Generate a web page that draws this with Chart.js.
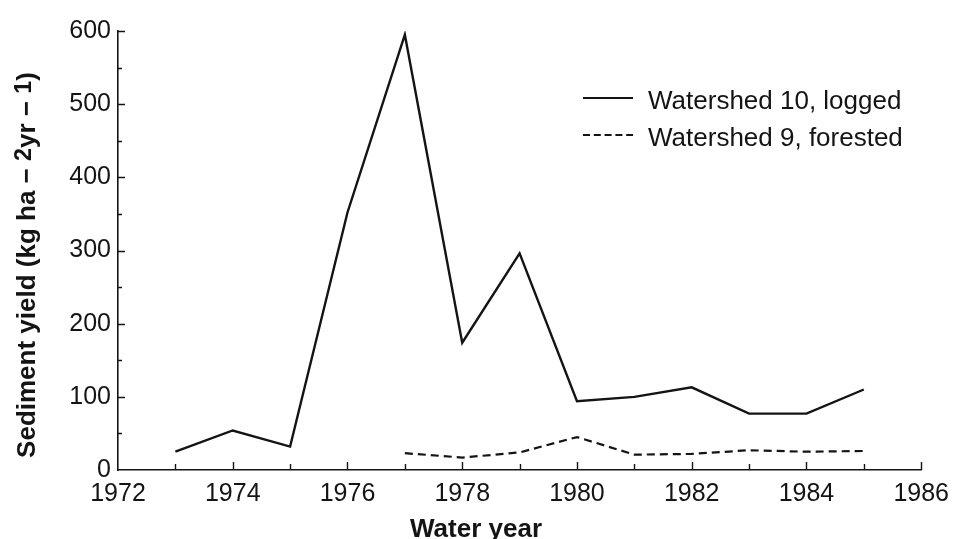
<!DOCTYPE html>
<html>
<head>
<meta charset="utf-8">
<script src="https://cdn.jsdelivr.net/npm/chart.js@4.4.0/dist/chart.umd.min.js"></script>
<style>
  html, body { margin: 0; padding: 0; background: #fff; }
  #wrap { width: 958px; height: 539px; }
</style>
</head>
<body>
<div id="wrap"><canvas id="chart"></canvas></div>
<script>
// years and sediment yields
const years = [1973, 1974, 1975, 1976, 1977, 1978, 1979, 1980, 1981, 1982, 1983, 1984, 1985];
const logged = [25, 54, 32, 352, 595, 174, 296, 94, 100, 113, 77, 77, 110];
const forestedYears = [1977, 1978, 1979, 1980, 1981, 1982, 1983, 1984, 1985];
const forested = [23, 17, 24, 45, 21, 22, 27, 25, 26];
const xTicks = [1972, 1974, 1976, 1978, 1980, 1982, 1984, 1986];
const yTicks = [0, 100, 200, 300, 400, 500, 600];

const ink = '#141414';
const font = 'Liberation Sans';

function toPoints(xs, ys) {
  return xs.map((x, i) => ({ x: x, y: ys[i] }));
}

// width of a run of text pieces (raised pieces are a touch smaller)
function piecesWidth(ctx, pieces, size) {
  let w = 0;
  pieces.forEach(p => {
    ctx.font = 'bold ' + (p.raised ? size * 0.9 : size) + 'px "' + font + '"';
    w += ctx.measureText(p.t).width;
  });
  return w;
}

function drawPieces(ctx, pieces, x, y, size) {
  let cx = x;
  pieces.forEach(p => {
    ctx.font = 'bold ' + (p.raised ? size * 0.9 : size) + 'px "' + font + '"';
    ctx.fillText(p.t, cx, y - (p.raised ? 4 : 0));
    cx += ctx.measureText(p.t).width;
  });
}

// inward tick marks, axis titles and the legend at top right
const extras = {
  id: 'extras',
  afterDraw(chart) {
    const ctx = chart.ctx;
    const xs = chart.scales.x;
    const ys = chart.scales.y;
    const left = xs.getPixelForValue(1972);
    const bottom = ys.getPixelForValue(0);
    ctx.save();
    ctx.strokeStyle = ink;
    ctx.lineWidth = 1.4;
    ctx.beginPath();
    for (let yr = 1973; yr <= 1986; yr++) {
      const px = Math.round(xs.getPixelForValue(yr)) + 0.5;
      const len = yr % 2 === 0 ? 8 : 6;
      ctx.moveTo(px, bottom);
      ctx.lineTo(px, bottom - len);
    }
    for (let v = 50; v <= 600; v += 50) {
      const py = Math.round(ys.getPixelForValue(v)) + 0.5;
      const len = v % 100 === 0 ? 7 : 4;
      ctx.moveTo(left, py);
      ctx.lineTo(left + len, py);
    }
    ctx.stroke();

    // axis titles
    ctx.fillStyle = ink;
    ctx.textBaseline = 'alphabetic';
    ctx.font = 'bold 26px "' + font + '"';
    ctx.textAlign = 'center';
    ctx.fillText('Water year', 476, 537);

    ctx.textAlign = 'left';
    const yPieces = [
      { t: 'Sediment yield (kg ha \u2212 ' },
      { t: '2', raised: true },
      { t: 'yr \u2212 ' },
      { t: '1', raised: true },
      { t: ')' }
    ];
    const titleSize = 26;
    const total = piecesWidth(ctx, yPieces, titleSize);
    ctx.save();
    ctx.translate(35, 265);
    ctx.rotate(-Math.PI / 2);
    drawPieces(ctx, yPieces, -total / 2, 0, titleSize);
    ctx.restore();

    // legend
    const lx = 583, lw = 50, tx = 648;
    const rows = [98, 135];
    ctx.font = '26px "' + font + '"';
    ctx.textBaseline = 'middle';
    chart.data.datasets.forEach((ds, i) => {
      ctx.beginPath();
      ctx.lineWidth = 2.2;
      ctx.setLineDash(ds.label.indexOf('forested') >= 0 ? [7, 3.8] : []);
      ctx.moveTo(lx, rows[i]);
      ctx.lineTo(lx + lw, rows[i]);
      ctx.stroke();
      ctx.setLineDash([]);
      ctx.fillText(ds.label, tx, rows[i] + 4);
    });
    ctx.restore();
  }
};

new Chart(document.getElementById('chart'), {
  type: 'line',
  data: {
    datasets: [
      {
        label: 'Watershed 10, logged',
        data: toPoints(years, logged),
        borderColor: ink,
        borderWidth: 2.4,
        pointRadius: 0,
        tension: 0
      },
      {
        label: 'Watershed 9, forested',
        data: toPoints(forestedYears, forested),
        borderColor: ink,
        borderWidth: 2.2,
        borderDash: [8, 5],
        pointRadius: 0,
        tension: 0
      }
    ]
  },
  options: {
    responsive: true,
    maintainAspectRatio: false,
    animation: false,
    layout: { padding: { top: 31, right: 30, left: 0, bottom: 0 } },
    plugins: {
      legend: { display: false },
      tooltip: { enabled: false }
    },
    scales: {
      x: {
        type: 'linear',
        min: 1972,
        max: 1986,
        afterFit(scale) { scale.height = 69; },
        afterBuildTicks(scale) { scale.ticks = xTicks.map(v => ({ value: v })); },
        grid: { display: false, drawTicks: false },
        border: { display: true, color: ink, width: 1.6 },
        ticks: {
          color: ink,
          padding: 9,
          font: { family: font, size: 25 },
          callback: v => String(v)
        }
      },
      y: {
        min: 0,
        max: 600,
        afterFit(scale) { scale.width = 118; },
        afterBuildTicks(scale) { scale.ticks = yTicks.map(v => ({ value: v })); },
        grid: { display: false, drawTicks: false },
        border: { display: true, color: ink, width: 1.6 },
        ticks: {
          color: ink,
          padding: 7,
          font: { family: font, size: 25 }
        }
      }
    }
  },
  plugins: [extras]
});
</script>
</body>
</html>
